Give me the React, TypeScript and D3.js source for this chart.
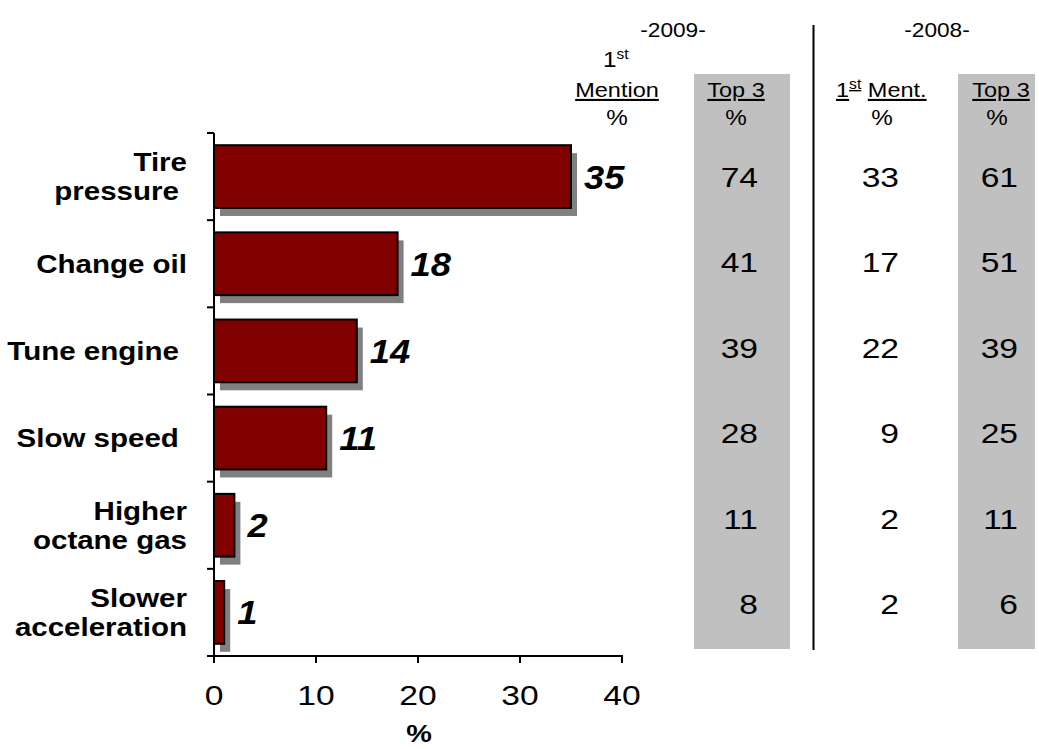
import React from "react";
import * as d3 from "d3";

const categories = ["Tire pressure", "Change oil", "Tune engine", "Slow speed", "Higher octane gas", "Slower acceleration"];
const categoryLines = [["Tire", "pressure\u00a0"], ["Change oil"], ["Tune engine\u00a0"], ["Slow speed\u00a0"], ["Higher", "octane gas"], ["Slower", "acceleration"]];
const firstMention2009 = [35, 18, 14, 11, 2, 1];
const top3_2009 = [74, 41, 39, 28, 11, 8];
const firstMention2008 = [33, 17, 22, 9, 2, 2];
const top3_2008 = [61, 51, 39, 25, 11, 6];
const xTicks = [0, 10, 20, 30, 40];

const FONT = "'Liberation Sans', Arial, sans-serif";
const SX = 1.2;

function T(props: any) {
  const { x, y, sx = SX, children, ...rest } = props;
  return (
    <text transform={`translate(${x},${y}) scale(${sx},1)`} fill="#000" {...rest}>
      {children}
    </text>
  );
}

export default function App() {
  const W = 1039, H = 749;
  const x = d3.scaleLinear().domain([0, 40]).range([214, 622]);
  const y = d3.scaleBand<string>().domain(categories).range([133, 656]).paddingInner(0.28).paddingOuter(0.14);
  const step = y.step();
  const boundaries = d3.range(categories.length + 1).map((i) => 133 + i * step);
  const rowY = (i: number) => y(categories[i])! + y.bandwidth() / 2;
  const tableBase = (i: number) => 187 + i * 85.4;

  return (
    <svg width={W} height={H} style={{ position: "absolute", left: 0, top: 0, background: "#fff" }} fontFamily={FONT}>
      {/* gray column backgrounds */}
      <rect x={694} y={74} width={96} height={575} fill="#c0c0c0" />
      <rect x={958} y={74} width={77} height={575} fill="#c0c0c0" />
      {/* separator */}
      <line x1={813.5} x2={813.5} y1={25} y2={650} stroke="#000" strokeWidth={2} />

      {/* bars with shadows */}
      {firstMention2009.map((v, i) => (
        <g key={i}>
          <rect x={x(0) + 6} y={y(categories[i])! + 8} width={x(v) - x(0)} height={y.bandwidth()} fill="#808080" />
          <rect x={x(0)} y={y(categories[i])!} width={x(v) - x(0)} height={y.bandwidth()} fill="#800000" stroke="#000" strokeWidth={2} />
          <T x={x(v) + 13} y={rowY(i) + 12} sx={1.1} fontSize={33} fontWeight="bold" fontStyle="italic">{v}</T>
        </g>
      ))}

      {/* axes */}
      <line x1={x(0)} x2={x(0)} y1={133} y2={657} stroke="#000" strokeWidth={2} />
      <line x1={x(0) - 7} x2={x(40) + 1} y1={656} y2={656} stroke="#000" strokeWidth={2} />
      {boundaries.map((b, i) => (
        <line key={i} x1={x(0) - 7} x2={x(0)} y1={b} y2={b} stroke="#000" strokeWidth={2} />
      ))}
      {xTicks.map((t) => (
        <g key={t}>
          <line x1={x(t)} x2={x(t)} y1={656} y2={663} stroke="#000" strokeWidth={2} />
          <T x={x(t)} y={705} textAnchor="middle" fontSize={28}>{t}</T>
        </g>
      ))}
      <T x={419} y={742} textAnchor="middle" fontSize={24} fontWeight="bold">%</T>

      {/* category labels */}
      {categoryLines.map((lines, i) => {
        const c = rowY(i);
        const lh = 29;
        const start = c + 9 - ((lines.length - 1) * lh) / 2;
        return (
          <g key={i}>
            {lines.map((l, j) => (
              <T key={j} x={187} y={start + j * lh} sx={1.18} textAnchor="end" fontSize={25} fontWeight="bold">{l}</T>
            ))}
          </g>
        );
      })}

      {/* header */}
      <T x={673} y={37} textAnchor="middle" fontSize={21} sx={1.08}>-2009-</T>
      <T x={937} y={37} textAnchor="middle" fontSize={21} sx={1.08}>-2008-</T>
      <T x={603} y={67} fontSize={22} sx={1.1}>1<tspan fontSize={14} dy={-8}>st</tspan></T>
      <T x={617} y={97} textAnchor="middle" fontSize={21} sx={1.12} textDecoration="underline">Mention</T>
      <T x={617} y={125} textAnchor="middle" fontSize={22} sx={1.1}>%</T>
      <T x={736} y={97} textAnchor="middle" fontSize={21} sx={1.12} textDecoration="underline">Top 3</T>
      <T x={736} y={125} textAnchor="middle" fontSize={22} sx={1.1}>%</T>
      <T x={836} y={97} fontSize={21} sx={1.12}>
        <tspan textDecoration="underline">1</tspan>
        <tspan fontSize={14} dy={-8} textDecoration="underline">st</tspan>
        <tspan dy={8}> </tspan>
        <tspan textDecoration="underline">Ment.</tspan>
      </T>
      <T x={882} y={125} textAnchor="middle" fontSize={22} sx={1.1}>%</T>
      <T x={1001} y={97} textAnchor="middle" fontSize={21} sx={1.12} textDecoration="underline">Top 3</T>
      <T x={997} y={125} textAnchor="middle" fontSize={22} sx={1.1}>%</T>

      {/* table values */}
      {top3_2009.map((v, i) => (
        <T key={"a" + i} x={758} y={tableBase(i)} textAnchor="end" fontSize={28}>{v}</T>
      ))}
      {firstMention2008.map((v, i) => (
        <T key={"b" + i} x={899} y={tableBase(i)} textAnchor="end" fontSize={28}>{v}</T>
      ))}
      {top3_2008.map((v, i) => (
        <T key={"c" + i} x={1018} y={tableBase(i)} textAnchor="end" fontSize={28}>{v}</T>
      ))}
    </svg>
  );
}
